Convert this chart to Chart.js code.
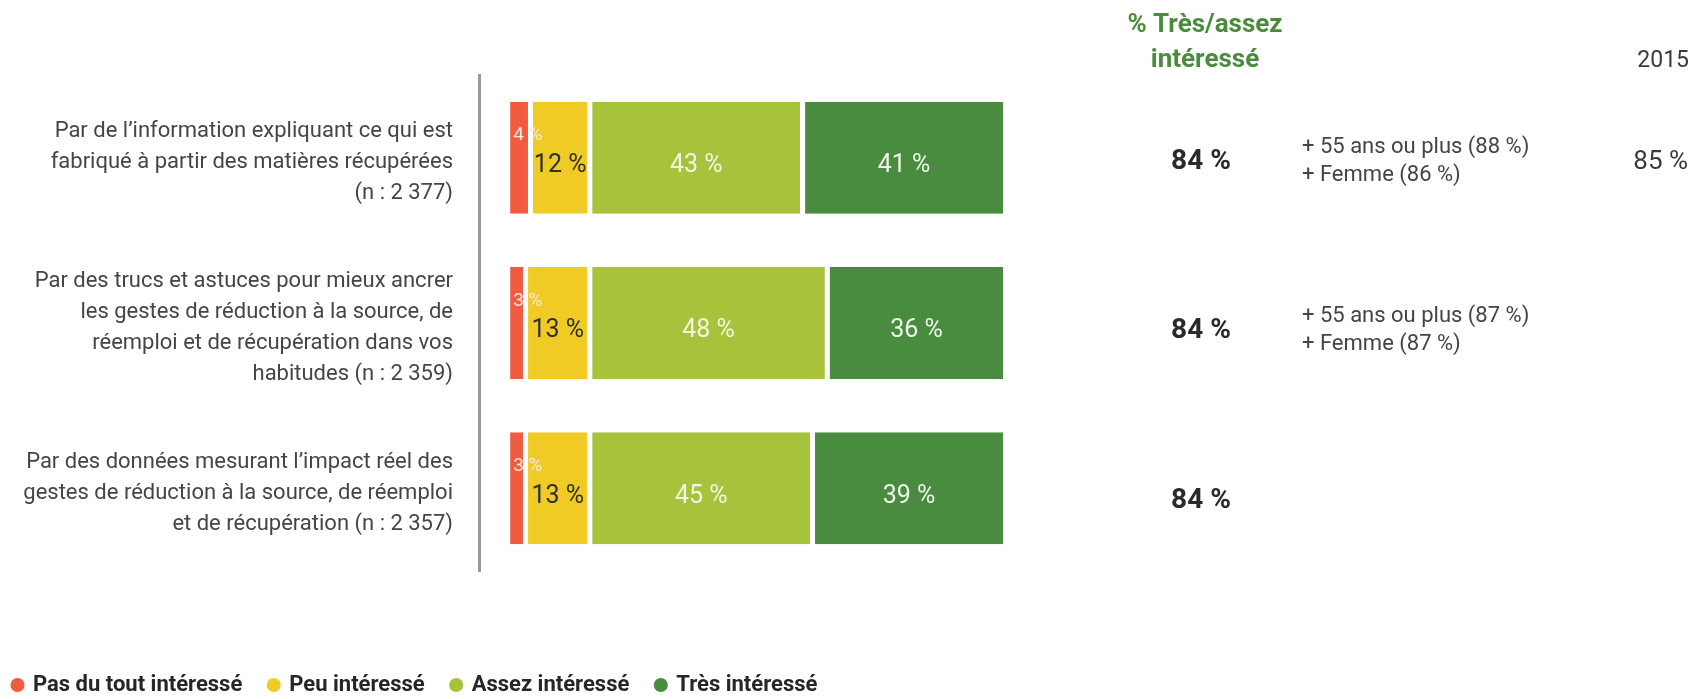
<!DOCTYPE html>
<html>
<head>
<meta charset="utf-8">
<script src="https://cdn.jsdelivr.net/npm/chart.js@4.4.1/dist/chart.umd.min.js"></script>
<style>
html,body{margin:0;padding:0;background:#fff;}
#wrap{width:1699px;height:699px;position:relative;}
</style>
</head>
<body>
<div id="wrap"><canvas id="c"></canvas></div>
<script>
// ---- data ----
const categories = [
  ["Par de l’information expliquant ce qui est", "fabriqué à partir des matières récupérées", "(n : 2 377)"],
  ["Par des trucs et astuces pour mieux ancrer", "les gestes de réduction à la source, de", "réemploi et de récupération dans vos", "habitudes (n : 2 359)"],
  ["Par des données mesurant l’impact réel des", "gestes de réduction à la source, de réemploi", "et de récupération (n : 2 357)"]
];
const seriesNames = ["Pas du tout intéressé", "Peu intéressé", "Assez intéressé", "Très intéressé"];
const pasDuTout = [4, 3, 3];
const peu = [12, 13, 13];
const assez = [43, 48, 45];
const tres = [41, 36, 39];
const tresAssez = [84, 84, 84];
const subgroups = [
  ["+ 55 ans ou plus (88 %)", "+ Femme (86 %)"],
  ["+ 55 ans ou plus (87 %)", "+ Femme (87 %)"],
  []
];
const result2015 = [85, null, null];
const headerTotal = ["% Très/assez", "intéressé"];
const headerYear = "2015";

// ---- styles ----
const FONT = "Roboto, 'Liberation Sans', sans-serif";
const colors = ['#F15B40', '#F0CB26', '#A6C33B', '#4A8C3F'];
const labelColors = ['#FCE8E0', '#2f2f2f', '#F4F4E6', '#EEF4EC'];
Chart.defaults.font.family = FONT;

const barLabels = {
  id: 'barLabels',
  afterDatasetsDraw(chart) {
    const ctx = chart.ctx;
    ctx.save();
    chart.data.datasets.forEach((ds, di) => {
      const meta = chart.getDatasetMeta(di);
      meta.data.forEach((el, i) => {
        const v = ds.data[i];
        const p = el.getProps(['x', 'y', 'base'], true);
        const left = Math.min(p.x, p.base) + (di === 0 ? 2 : 5);
        const right = Math.max(p.x, p.base);
        const txt = v + ' %';
        ctx.textBaseline = 'middle';
        ctx.fillStyle = labelColors[di];
        if (di === 0) {
          ctx.font = `400 19px ${FONT}`;
          ctx.textAlign = 'left';
          ctx.fillText(txt, left + 3, p.y - 22);
        } else {
          ctx.font = `400 25px ${FONT}`;
          ctx.textAlign = 'center';
          ctx.fillText(txt, (left + right) / 2, p.y + 8);
        }
      });
    });
    ctx.restore();
  }
};

const sideText = {
  id: 'sideText',
  afterDraw(chart) {
    const ctx = chart.ctx, ys = chart.scales.y;
    const rowShift = [1.5, 5, 9.5];
    ctx.save();
    ctx.textBaseline = 'alphabetic';
    ctx.fillStyle = '#4A8C3C';
    ctx.font = `700 26px ${FONT}`;
    ctx.textAlign = 'center';
    ctx.fillText(headerTotal[0], 1205, 32);
    ctx.fillText(headerTotal[1], 1205, 66.5);
    ctx.fillStyle = '#3a3a3a';
    ctx.font = `400 23px ${FONT}`;
    ctx.textAlign = 'right';
    ctx.fillText(headerYear, 1689, 67);
    categories.forEach((c, i) => {
      const cy = ys.getPixelForValue(i) + rowShift[i];
      ctx.font = `700 28px ${FONT}`;
      ctx.fillStyle = '#2a2a2a';
      ctx.textAlign = 'center';
      ctx.fillText(tresAssez[i] + ' %', 1201, cy + 10);
      ctx.font = `400 22px ${FONT}`;
      ctx.fillStyle = '#444444';
      ctx.textAlign = 'left';
      subgroups[i].forEach((s, k) => ctx.fillText(s, 1302, cy - 6 + 28 * k));
      if (result2015[i] != null) {
        ctx.font = `400 26px ${FONT}`;
        ctx.fillStyle = '#3a3a3a';
        ctx.textAlign = 'right';
        ctx.fillText(result2015[i] + ' %', 1688, cy + 9.5);
      }
    });
    ctx.restore();
  }
};

const legendPlace = {
  id: 'legendPlace',
  afterLayout(chart) {
    const lg = chart.legend;
    if (!lg) return;
    const w = lg.width;
    lg.left = -14; lg.right = lg.left + w;
    lg.top = 647; lg.bottom = 699;
  }
};

const seriesValues = [pasDuTout, peu, assez, tres];
const datasets = seriesNames.map((name, di) => ({
  label: name,
  data: seriesValues[di],
  backgroundColor: colors[di],
  borderColor: '#ffffff',
  borderWidth: { left: di === 0 ? 2 : 5, right: 0, top: 0, bottom: 0 },
  borderSkipped: false,
  inflateAmount: 0,
  categoryPercentage: 1,
  barPercentage: 0.6774
}));

new Chart(document.getElementById('c'), {
  type: 'bar',
  data: { labels: categories, datasets },
  options: {
    indexAxis: 'y',
    responsive: true,
    maintainAspectRatio: false,
    animation: false,
    events: [],
    layout: { padding: { top: 75, right: 696, bottom: 88, left: 0 } },
    scales: {
      x: { stacked: true, min: -5.9, max: 100, display: false },
      y: {
        stacked: true,
        grid: { display: false, drawTicks: false, tickLength: 0 },
        border: { display: true, color: '#9a9a9a', width: 3 },
        ticks: {
          padding: 26,
          color: '#454545',
          autoSkip: false,
          labelOffset: 5,
          font: { family: FONT, size: 22, lineHeight: 1.42 }
        },
        afterFit(scale) { scale.width = 479; }
      }
    },
    plugins: {
      tooltip: { enabled: false },
      legend: {
        position: 'bottom',
        align: 'start',
        maxHeight: 40,
        labels: {
          usePointStyle: true,
          pointStyle: 'circle',
          boxWidth: 9,
          boxHeight: 10,
          padding: 27,
          color: '#262626',
          font: { family: FONT, size: 22, weight: 'bold' },
          generateLabels(chart) {
            const items = Chart.defaults.plugins.legend.labels.generateLabels(chart);
            items.forEach(it => { it.lineWidth = 0; it.strokeStyle = it.fillStyle; });
            return items;
          }
        }
      }
    }
  },
  plugins: [barLabels, sideText, legendPlace]
});
</script>
</body>
</html>
